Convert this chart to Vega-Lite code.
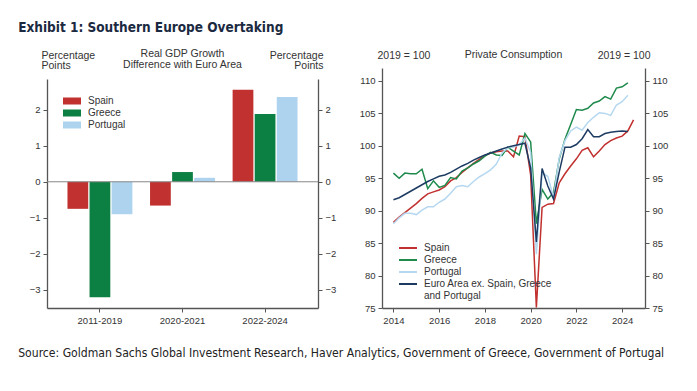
{
  "$schema": "https://vega.github.io/schema/vega-lite/v6.json",
  "background": "white",
  "padding": {"left": 18, "top": 20, "right": 5, "bottom": 5},
  "config": {
    "view": {"stroke": null},
    "font": "Liberation Sans",
    "axis": {"grid": false, "domainColor": "#555", "domainWidth": 1.3, "tickColor": "#555", "tickSize": 4, "labelFont": "Liberation Sans", "labelFontSize": 9.5, "labelColor": "#333", "labelPadding": 3, "titleFont": "Liberation Sans", "titleFontSize": 10.5, "titleFontWeight": "normal", "titleColor": "#333", "titleLineHeight": 10.5},
    "legend": {"labelFont": "Liberation Sans", "labelFontSize": 10, "labelColor": "#333", "padding": 0}
  },
  "datasets": {
    "gdp": [
      {"period": "2011-2019", "country": "Spain", "value": -0.75},
      {"period": "2011-2019", "country": "Greece", "value": -3.2},
      {"period": "2011-2019", "country": "Portugal", "value": -0.9},
      {"period": "2020-2021", "country": "Spain", "value": -0.66},
      {"period": "2020-2021", "country": "Greece", "value": 0.27},
      {"period": "2020-2021", "country": "Portugal", "value": 0.11},
      {"period": "2022-2024", "country": "Spain", "value": 2.55},
      {"period": "2022-2024", "country": "Greece", "value": 1.88},
      {"period": "2022-2024", "country": "Portugal", "value": 2.35}
    ],
    "zero": [{"y": 0}],
    "ref": [{"y": 100}],
    "cons": [
      {"t":2014,"s":"Spain","v":88.2},{"t":2014.25,"s":"Spain","v":89.0},{"t":2014.5,"s":"Spain","v":89.7},{"t":2014.75,"s":"Spain","v":90.4},
      {"t":2015,"s":"Spain","v":91.1},{"t":2015.25,"s":"Spain","v":91.9},{"t":2015.5,"s":"Spain","v":92.6},{"t":2015.75,"s":"Spain","v":92.9},
      {"t":2016,"s":"Spain","v":93.2},{"t":2016.25,"s":"Spain","v":93.7},{"t":2016.5,"s":"Spain","v":94.6},{"t":2016.75,"s":"Spain","v":95.1},
      {"t":2017,"s":"Spain","v":95.9},{"t":2017.25,"s":"Spain","v":96.6},{"t":2017.5,"s":"Spain","v":97.3},{"t":2017.75,"s":"Spain","v":97.9},
      {"t":2018,"s":"Spain","v":98.5},{"t":2018.25,"s":"Spain","v":98.9},{"t":2018.5,"s":"Spain","v":99.1},{"t":2018.75,"s":"Spain","v":99.2},
      {"t":2019,"s":"Spain","v":99.2},{"t":2019.25,"s":"Spain","v":98.3},{"t":2019.5,"s":"Spain","v":101.5},{"t":2019.75,"s":"Spain","v":101.4},
      {"t":2020,"s":"Spain","v":95.5},{"t":2020.25,"s":"Spain","v":75.1},{"t":2020.5,"s":"Spain","v":90.5},{"t":2020.75,"s":"Spain","v":91.0},
      {"t":2021,"s":"Spain","v":91.1},{"t":2021.25,"s":"Spain","v":94.3},{"t":2021.5,"s":"Spain","v":95.7},{"t":2021.75,"s":"Spain","v":96.9},
      {"t":2022,"s":"Spain","v":98.0},{"t":2022.25,"s":"Spain","v":99.3},{"t":2022.5,"s":"Spain","v":99.7},{"t":2022.75,"s":"Spain","v":98.3},
      {"t":2023,"s":"Spain","v":99.2},{"t":2023.25,"s":"Spain","v":100.2},{"t":2023.5,"s":"Spain","v":100.8},{"t":2023.75,"s":"Spain","v":101.2},
      {"t":2024,"s":"Spain","v":101.5},{"t":2024.25,"s":"Spain","v":102.3},{"t":2024.5,"s":"Spain","v":104.0},
      {"t":2014,"s":"Greece","v":95.8},{"t":2014.25,"s":"Greece","v":95.0},{"t":2014.5,"s":"Greece","v":95.8},{"t":2014.75,"s":"Greece","v":95.7},
      {"t":2015,"s":"Greece","v":95.7},{"t":2015.25,"s":"Greece","v":96.4},{"t":2015.5,"s":"Greece","v":93.4},{"t":2015.75,"s":"Greece","v":94.6},
      {"t":2016,"s":"Greece","v":93.6},{"t":2016.25,"s":"Greece","v":93.9},{"t":2016.5,"s":"Greece","v":95.1},{"t":2016.75,"s":"Greece","v":94.9},
      {"t":2017,"s":"Greece","v":96.1},{"t":2017.25,"s":"Greece","v":96.6},{"t":2017.5,"s":"Greece","v":97.2},{"t":2017.75,"s":"Greece","v":97.7},
      {"t":2018,"s":"Greece","v":98.4},{"t":2018.25,"s":"Greece","v":99.0},{"t":2018.5,"s":"Greece","v":98.6},{"t":2018.75,"s":"Greece","v":98.5},
      {"t":2019,"s":"Greece","v":99.8},{"t":2019.25,"s":"Greece","v":99.2},{"t":2019.5,"s":"Greece","v":98.6},{"t":2019.75,"s":"Greece","v":101.9},
      {"t":2020,"s":"Greece","v":100.6},{"t":2020.25,"s":"Greece","v":88.0},{"t":2020.5,"s":"Greece","v":93.3},{"t":2020.75,"s":"Greece","v":91.8},
      {"t":2021,"s":"Greece","v":92.8},{"t":2021.25,"s":"Greece","v":98.0},{"t":2021.5,"s":"Greece","v":101.0},{"t":2021.75,"s":"Greece","v":103.3},
      {"t":2022,"s":"Greece","v":105.6},{"t":2022.25,"s":"Greece","v":105.5},{"t":2022.5,"s":"Greece","v":105.8},{"t":2022.75,"s":"Greece","v":106.6},
      {"t":2023,"s":"Greece","v":106.9},{"t":2023.25,"s":"Greece","v":107.6},{"t":2023.5,"s":"Greece","v":107.2},{"t":2023.75,"s":"Greece","v":108.9},
      {"t":2024,"s":"Greece","v":109.1},{"t":2024.25,"s":"Greece","v":109.7},
      {"t":2014,"s":"Portugal","v":88.0},{"t":2014.25,"s":"Portugal","v":88.9},{"t":2014.5,"s":"Portugal","v":89.6},{"t":2014.75,"s":"Portugal","v":89.6},
      {"t":2015,"s":"Portugal","v":89.4},{"t":2015.25,"s":"Portugal","v":90.1},{"t":2015.5,"s":"Portugal","v":90.6},{"t":2015.75,"s":"Portugal","v":90.6},
      {"t":2016,"s":"Portugal","v":91.3},{"t":2016.25,"s":"Portugal","v":91.8},{"t":2016.5,"s":"Portugal","v":92.7},{"t":2016.75,"s":"Portugal","v":93.7},
      {"t":2017,"s":"Portugal","v":93.9},{"t":2017.25,"s":"Portugal","v":93.7},{"t":2017.5,"s":"Portugal","v":94.5},{"t":2017.75,"s":"Portugal","v":95.2},
      {"t":2018,"s":"Portugal","v":95.7},{"t":2018.25,"s":"Portugal","v":96.3},{"t":2018.5,"s":"Portugal","v":97.2},{"t":2018.75,"s":"Portugal","v":98.9},
      {"t":2019,"s":"Portugal","v":99.7},{"t":2019.25,"s":"Portugal","v":99.8},{"t":2019.5,"s":"Portugal","v":100.2},{"t":2019.75,"s":"Portugal","v":101.2},
      {"t":2020,"s":"Portugal","v":99.0},{"t":2020.25,"s":"Portugal","v":83.3},{"t":2020.5,"s":"Portugal","v":95.8},{"t":2020.75,"s":"Portugal","v":95.3},
      {"t":2021,"s":"Portugal","v":92.0},{"t":2021.25,"s":"Portugal","v":98.2},{"t":2021.5,"s":"Portugal","v":100.8},{"t":2021.75,"s":"Portugal","v":102.3},
      {"t":2022,"s":"Portugal","v":102.9},{"t":2022.25,"s":"Portugal","v":102.4},{"t":2022.5,"s":"Portugal","v":103.6},{"t":2022.75,"s":"Portugal","v":104.4},
      {"t":2023,"s":"Portugal","v":105.1},{"t":2023.25,"s":"Portugal","v":105.0},{"t":2023.5,"s":"Portugal","v":104.7},{"t":2023.75,"s":"Portugal","v":106.3},
      {"t":2024,"s":"Portugal","v":106.8},{"t":2024.25,"s":"Portugal","v":107.8},
      {"t":2014,"s":"EA","v":91.7},{"t":2014.25,"s":"EA","v":92.0},{"t":2014.5,"s":"EA","v":92.5},{"t":2014.75,"s":"EA","v":93.0},
      {"t":2015,"s":"EA","v":93.5},{"t":2015.25,"s":"EA","v":94.0},{"t":2015.5,"s":"EA","v":94.5},{"t":2015.75,"s":"EA","v":94.9},
      {"t":2016,"s":"EA","v":95.3},{"t":2016.25,"s":"EA","v":95.5},{"t":2016.5,"s":"EA","v":95.9},{"t":2016.75,"s":"EA","v":96.4},
      {"t":2017,"s":"EA","v":96.9},{"t":2017.25,"s":"EA","v":97.3},{"t":2017.5,"s":"EA","v":97.8},{"t":2017.75,"s":"EA","v":98.2},
      {"t":2018,"s":"EA","v":98.6},{"t":2018.25,"s":"EA","v":98.9},{"t":2018.5,"s":"EA","v":99.2},{"t":2018.75,"s":"EA","v":99.5},
      {"t":2019,"s":"EA","v":99.8},{"t":2019.25,"s":"EA","v":100.0},{"t":2019.5,"s":"EA","v":100.2},{"t":2019.75,"s":"EA","v":100.4},
      {"t":2020,"s":"EA","v":96.6},{"t":2020.25,"s":"EA","v":85.2},{"t":2020.5,"s":"EA","v":96.5},{"t":2020.75,"s":"EA","v":93.8},
      {"t":2021,"s":"EA","v":91.8},{"t":2021.25,"s":"EA","v":96.0},{"t":2021.5,"s":"EA","v":99.8},{"t":2021.75,"s":"EA","v":99.8},
      {"t":2022,"s":"EA","v":100.2},{"t":2022.25,"s":"EA","v":101.1},{"t":2022.5,"s":"EA","v":102.5},{"t":2022.75,"s":"EA","v":101.4},
      {"t":2023,"s":"EA","v":101.4},{"t":2023.25,"s":"EA","v":101.9},{"t":2023.5,"s":"EA","v":102.1},{"t":2023.75,"s":"EA","v":102.2},
      {"t":2024,"s":"EA","v":102.3},{"t":2024.25,"s":"EA","v":102.2}
    ]
  },
  "title": {"text": "Source: Goldman Sachs Global Investment Research, Haver Analytics, Government of Greece, Government of Portugal", "orient": "bottom", "anchor": "start", "frame": "bounds", "font": "Liberation Sans Narrow, DejaVu Sans Condensed, Liberation Sans", "fontSize": 12.1, "fontWeight": "normal", "color": "#222", "offset": 22},
  "bounds": "flush",
  "vconcat": [
    {
      "title": {"text": "Exhibit 1: Southern Europe Overtaking", "anchor": "start", "frame": "bounds", "font": "Liberation Sans Narrow, DejaVu Sans Condensed, Liberation Sans", "fontSize": 13.5, "fontWeight": "bold", "color": "#1B2A41", "offset": 15, "dx": -11},
      "bounds": "flush",
      "spacing": 64,
      "resolve": {"scale": {"color": "independent"}, "legend": {"color": "independent"}},
      "hconcat": [
        {
          "width": 271,
          "height": 240,
          "title": {"text": ["Real GDP Growth", "Difference with Euro Area"], "fontSize": 10.5, "fontWeight": "normal", "color": "#333", "font": "Liberation Sans", "lineHeight": 10.5, "offset": -20},
          "layer": [
            {
              "data": {"name": "gdp"},
              "mark": {"type": "bar"},
              "encoding": {
                "x": {"field": "period", "type": "nominal", "sort": ["2011-2019", "2020-2021", "2022-2024"], "scale": {"paddingInner": 0.214, "paddingOuter": 0.248}, "axis": {"title": null, "labelAngle": 0}},
                "xOffset": {"field": "country", "type": "nominal", "sort": ["Spain", "Greece", "Portugal"], "scale": {"paddingInner": 0.06}},
                "y": {"field": "value", "type": "quantitative", "scale": {"domain": [-3.5, 2.85], "range": [240, 11], "nice": false, "zero": false}, "axis": {"values": [-3, -2, -1, 0, 1, 2], "title": ["Percentage", "Points"], "titleAngle": 0, "titleAlign": "left", "titleBaseline": "alphabetic", "titleX": -6, "titleY": -10}},
                "color": {"field": "country", "type": "nominal", "sort": ["Spain", "Greece", "Portugal"], "scale": {"domain": ["Spain", "Greece", "Portugal"], "range": ["#C0312F", "#0C7F43", "#ADD3EF"]}, "legend": {"orient": "none", "legendX": 20, "legendY": 28, "title": null, "symbolType": "M-2.25,-0.875H2.25V0.875H-2.25Z", "symbolSize": 64, "symbolStrokeWidth": 0, "symbolOpacity": 1, "labelOffset": 11, "rowPadding": 2}}
              }
            },
            {
              "data": {"name": "zero"},
              "mark": {"type": "rule", "color": "#888", "strokeWidth": 1},
              "encoding": {
                "y": {"field": "y", "type": "quantitative", "axis": {"orient": "right", "values": [-3, -2, -1, 0, 1, 2], "title": ["Percentage", "Points"], "titleAngle": 0, "titleAlign": "right", "titleBaseline": "alphabetic", "titleX": 5, "titleY": -10}}
              }
            }
          ],
          "resolve": {"axis": {"y": "independent"}}
        },
        {
          "width": 263,
          "height": 240,
          "title": {"text": "Private Consumption", "fontSize": 10.5, "fontWeight": "normal", "color": "#333", "font": "Liberation Sans", "offset": -10},
          "layer": [
            {
              "data": {"name": "cons"},
              "mark": {"type": "line", "strokeWidth": 1.5},
              "encoding": {
                "x": {"field": "t", "type": "quantitative", "scale": {"domain": [2013.5, 2025], "nice": false, "zero": false}, "axis": {"title": null, "values": [2014, 2016, 2018, 2020, 2022, 2024], "format": "d"}},
                "y": {"field": "v", "type": "quantitative", "scale": {"domain": [75, 112], "nice": false, "zero": false}, "axis": {"values": [75, 80, 85, 90, 95, 100, 105, 110], "title": "2019 = 100", "titleAngle": 0, "titleAlign": "left", "titleBaseline": "alphabetic", "titleX": -5, "titleY": -10}},
                "color": {"field": "s", "type": "nominal", "scale": {"domain": ["Spain", "Greece", "Portugal", "EA"], "range": ["#C0312F", "#1E8A4C", "#B5D8F0", "#1D3B62"]}, "legend": {"orient": "none", "legendX": 21, "legendY": 175, "title": null, "symbolType": "M-2.25,0H2.25", "symbolSize": 64, "symbolStrokeWidth": 2, "labelOffset": 11, "rowPadding": 2, "labelExpr": "datum.label == 'EA' ? ['Euro Area ex. Spain, Greece', 'and Portugal'] : datum.label"}}
              }
            },
            {
              "data": {"name": "ref"},
              "mark": {"type": "rule", "strokeOpacity": 0},
              "encoding": {
                "y": {"field": "y", "type": "quantitative", "axis": {"orient": "right", "values": [75, 80, 85, 90, 95, 100, 105, 110], "title": "2019 = 100", "titleAngle": 0, "titleAlign": "right", "titleBaseline": "alphabetic", "titleX": 5, "titleY": -10}}
              }
            }
          ],
          "resolve": {"axis": {"y": "independent"}}
        }
      ]
    }
  ]
}
